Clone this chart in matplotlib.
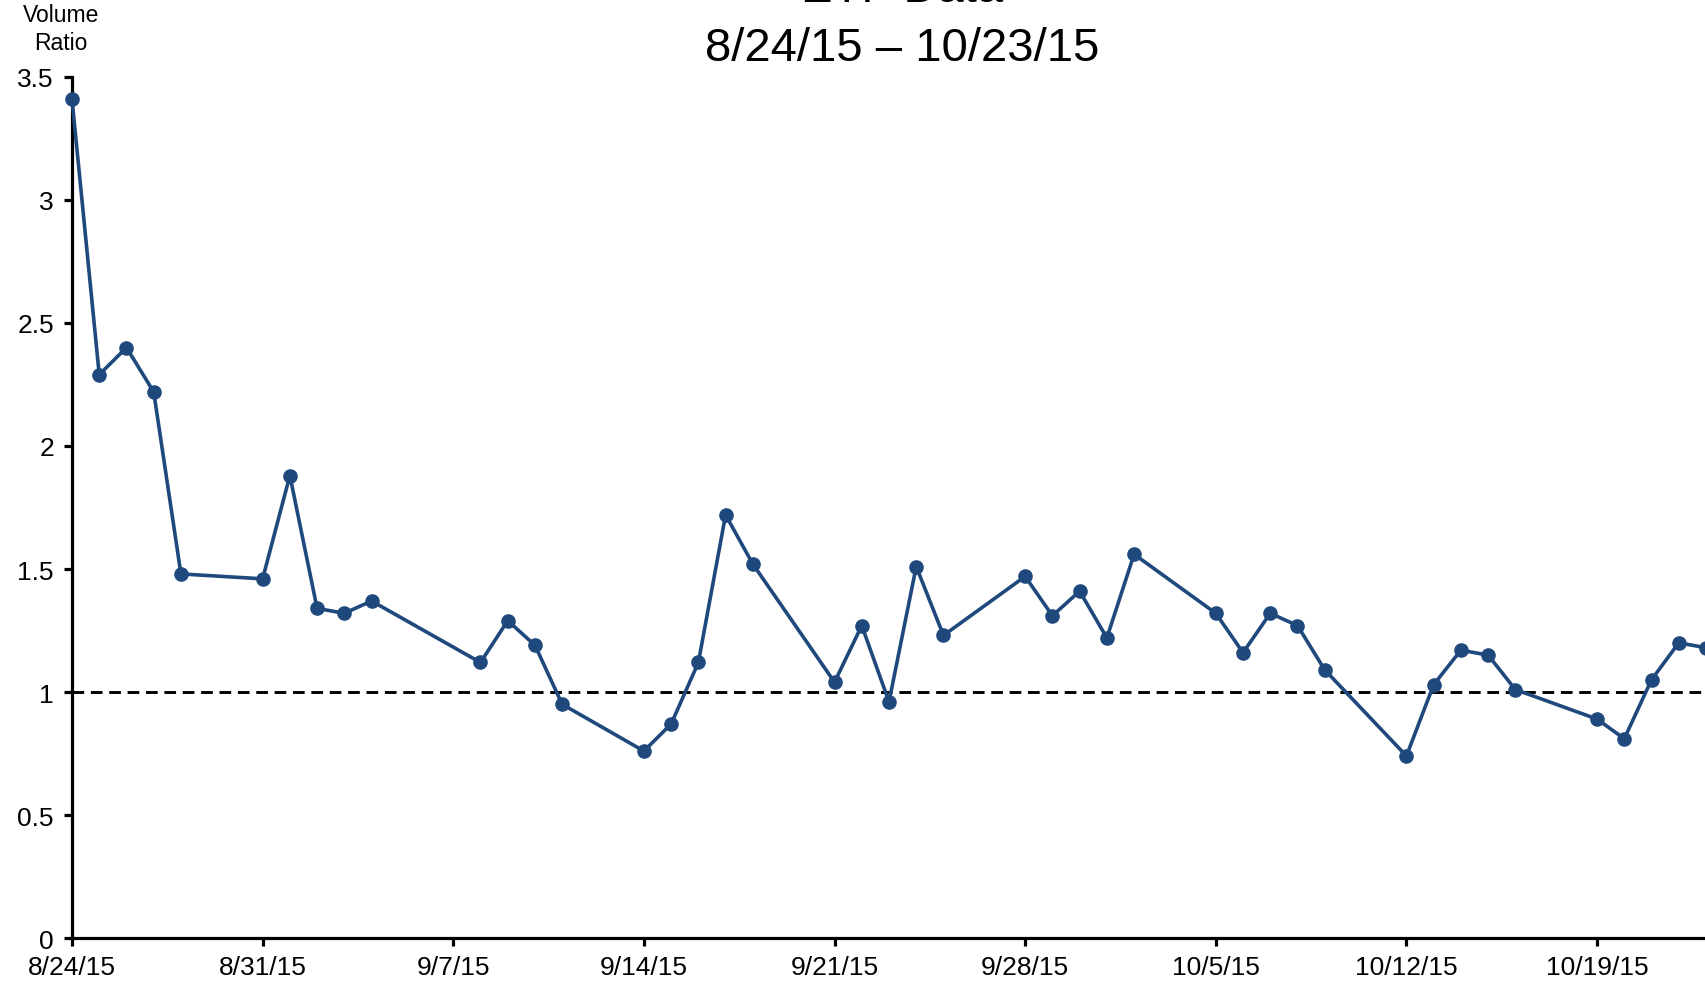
import pandas as pd
import matplotlib.pyplot as plt

plt.rcParams['font.family'] = ['Liberation Sans', 'DejaVu Sans']

# trading days and volume ratio
dates = ['2015-08-24', '2015-08-25', '2015-08-26', '2015-08-27', '2015-08-28',
         '2015-08-31', '2015-09-01', '2015-09-02', '2015-09-03', '2015-09-04',
         '2015-09-08', '2015-09-09', '2015-09-10', '2015-09-11',
         '2015-09-14', '2015-09-15', '2015-09-16', '2015-09-17', '2015-09-18',
         '2015-09-21', '2015-09-22', '2015-09-23', '2015-09-24', '2015-09-25',
         '2015-09-28', '2015-09-29', '2015-09-30', '2015-10-01', '2015-10-02',
         '2015-10-05', '2015-10-06', '2015-10-07', '2015-10-08', '2015-10-09',
         '2015-10-12', '2015-10-13', '2015-10-14', '2015-10-15', '2015-10-16',
         '2015-10-19', '2015-10-20', '2015-10-21', '2015-10-22', '2015-10-23']
ratio = [3.41, 2.29, 2.40, 2.22, 1.48,
         1.46, 1.88, 1.34, 1.32, 1.37,
         1.12, 1.29, 1.19, 0.95,
         0.76, 0.87, 1.12, 1.72, 1.52,
         1.04, 1.27, 0.96, 1.51, 1.23,
         1.47, 1.31, 1.41, 1.22, 1.56,
         1.32, 1.16, 1.32, 1.27, 1.09,
         0.74, 1.03, 1.17, 1.15, 1.01,
         0.89, 0.81, 1.05, 1.20, 1.18]
tick_dates = ['2015-08-24', '2015-08-31', '2015-09-07', '2015-09-14', '2015-09-21',
              '2015-09-28', '2015-10-05', '2015-10-12', '2015-10-19']
tick_labels = ['8/24/15', '8/31/15', '9/7/15', '9/14/15', '9/21/15',
               '9/28/15', '10/5/15', '10/12/15', '10/19/15']
y_ticks = [0, 0.5, 1, 1.5, 2, 2.5, 3, 3.5]
y_labels = ['0', '0.5', '1', '1.5', '2', '2.5', '3', '3.5']

x = pd.to_datetime(dates)
color = '#1f497d'

fig = plt.figure(figsize=(17.06, 9.87), dpi=100)
ax = fig.add_axes([0.0422, 0.0486, 0.9578, 0.8724])

ax.axhline(1, color='black', lw=2.1, dashes=(4, 2.3), zorder=1)
ax.plot(x, ratio, color=color, lw=2.6, marker='o', markersize=9.5, zorder=3,
        clip_on=False)

ax.set_xlim(pd.Timestamp('2015-08-24'), pd.Timestamp('2015-10-23'))
ax.set_ylim(0, 3.5)
ax.set_xticks(pd.to_datetime(tick_dates))
ax.set_xticklabels(tick_labels, fontsize=19)
ax.set_yticks(y_ticks)
ax.set_yticklabels(y_labels, fontsize=19)

for s in ['top', 'right']:
    ax.spines[s].set_visible(False)
for s in ['left', 'bottom']:
    ax.spines[s].set_linewidth(2.3)
ax.tick_params(axis='both', direction='out', length=6, width=2.3, pad=6)
ax.tick_params(axis='y', pad=7)

# title, top line is cut off in the original
fig.text(0.529, 0.998, 'ETF Data', ha='center', va='baseline', fontsize=34)
fig.text(0.529, 0.938, '8/24/15 \u2013 10/23/15', ha='center', va='baseline', fontsize=34)
fig.text(0.0358, 0.970, 'Volume\nRatio', ha='center', va='center', fontsize=16.5,
         linespacing=1.25)

plt.savefig('out.png', dpi=100)
